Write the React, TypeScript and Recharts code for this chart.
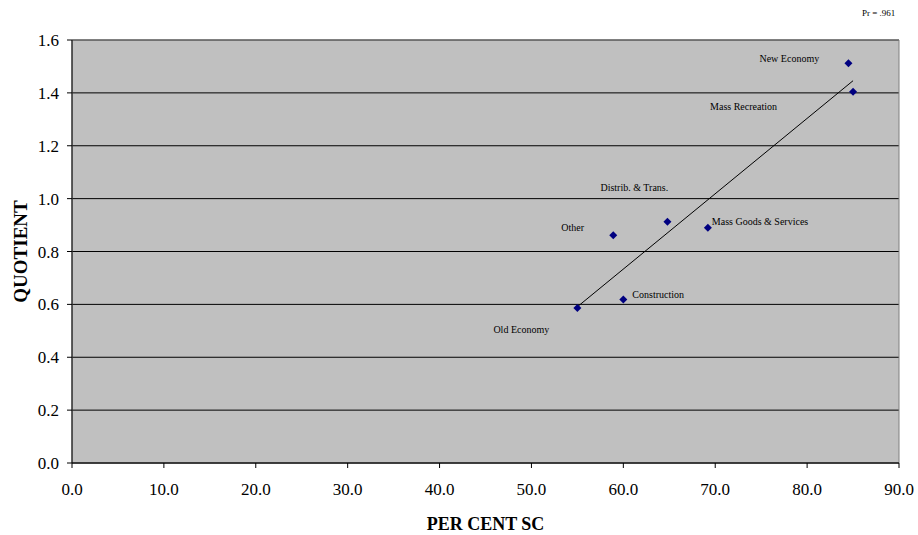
import React from 'react';
import { ScatterChart, Scatter, XAxis, YAxis, CartesianGrid, ReferenceLine, ReferenceArea, LabelList } from 'recharts';

const names = ['New Economy', 'Mass Recreation', 'Distrib. & Trans.', 'Mass Goods & Services', 'Other', 'Construction', 'Old Economy'];
const pctSC = [84.5, 85.0, 64.8, 69.2, 58.9, 60.0, 55.0];
const quotient = [1.512, 1.404, 0.913, 0.89, 0.861, 0.618, 0.586];
const xTicks = [0, 10, 20, 30, 40, 50, 60, 70, 80, 90];
const yTicks = [0, 0.2, 0.4, 0.6, 0.8, 1.0, 1.2, 1.4, 1.6];
const trendX = [55.0, 85.0];
const trendY = [0.591, 1.446];
const corrLabel = 'Pr = .961';

const data = names.map((n, i) => ({ name: n, x: pctSC[i], y: quotient[i] }));

const FONT = '"Liberation Serif", "Times New Roman", serif';

const labelOffsets: Record<string, [number, number]> = {
  'New Economy': [-89, -5],
  'Mass Recreation': [-143, 15],
  'Distrib. & Trans.': [-67, -34],
  'Mass Goods & Services': [4, -6],
  'Other': [-52, -8],
  'Construction': [9, -5],
  'Old Economy': [-84, 21],
};

const Diamond = (props: any) => {
  const { cx, cy } = props;
  if (cx == null || cy == null) return null;
  const r = 4;
  return <polygon points={`${cx},${cy - r} ${cx + r},${cy} ${cx},${cy + r} ${cx - r},${cy}`} fill="#000080" />;
};

const PointLabel = (props: any) => {
  const { x, y, width, height, value } = props;
  const cx = x + (width || 0) / 2;
  const cy = y + (height || 0) / 2;
  const off = labelOffsets[value] || [6, 0];
  return (
    <text x={cx + off[0]} y={cy + off[1]} fontFamily={FONT} fontSize={10} fill="#000" dominantBaseline="central" textAnchor="start">
      {value}
    </text>
  );
};

export default function App() {
  return (
    <div style={{ position: 'absolute', left: 0, top: 0, width: 918, height: 535, background: '#fff' }}>
      <div style={{ position: 'absolute', left: 862, top: 8, fontFamily: FONT, fontSize: 9, color: '#000', whiteSpace: 'nowrap' }}>{corrLabel}</div>
      <ScatterChart width={918} height={535} margin={{ top: 40, right: 19, bottom: 0, left: 0 }}>
        <CartesianGrid vertical={false} stroke="#000" fill="#c0c0c0" fillOpacity={1} />
        <ReferenceArea x1={0} x2={90} y1={0} y2={1.6} fill="none" stroke="#808080" strokeWidth={1} ifOverflow="visible" />
        <XAxis
          type="number"
          dataKey="x"
          domain={[0, 90]}
          ticks={xTicks}
          interval={0}
          height={72}
          tickFormatter={(v: number) => v.toFixed(1)}
          tick={{ fontFamily: FONT, fontSize: 17, fill: '#000' }}
          tickSize={5}
          tickMargin={15}
          stroke="#000"
          axisLine={{ stroke: '#000' }}
          label={{
            content: (p: any) => {
              const vb = p.viewBox;
              return (
                <text x={vb.x + vb.width / 2} y={vb.y + 67} textAnchor="middle" fontFamily={FONT} fontSize={18} fontWeight="bold" fill="#000">
                  PER CENT SC
                </text>
              );
            },
          }}
        />
        <YAxis
          type="number"
          dataKey="y"
          domain={[0, 1.6]}
          ticks={yTicks}
          interval={0}
          width={72}
          tickFormatter={(v: number) => v.toFixed(1)}
          tick={{ fontFamily: FONT, fontSize: 17, fill: '#000' }}
          tickSize={5}
          tickMargin={8}
          stroke="#000"
          axisLine={{ stroke: '#000' }}
          label={{
            content: (p: any) => {
              const vb = p.viewBox;
              const cx = 20;
              const cy = vb.y + vb.height / 2;
              return (
                <text x={cx} y={cy} transform={`rotate(-90 ${cx} ${cy})`} textAnchor="middle" dominantBaseline="central" fontFamily={FONT} fontSize={19} fontWeight="bold" fill="#000">
                  QUOTIENT
                </text>
              );
            },
          }}
        />
        <ReferenceLine
          segment={[{ x: trendX[0], y: trendY[0] }, { x: trendX[1], y: trendY[1] }]}
          stroke="#000"
          strokeWidth={1}
          ifOverflow="visible"
        />
        <Scatter data={data} shape={<Diamond />} isAnimationActive={false}>
          <LabelList dataKey="name" content={<PointLabel />} />
        </Scatter>
      </ScatterChart>
    </div>
  );
}
